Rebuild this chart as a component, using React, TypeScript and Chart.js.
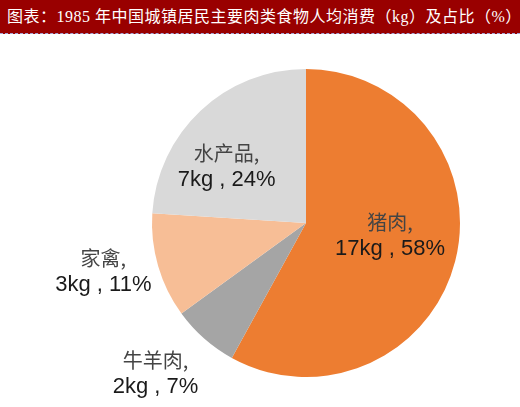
import React, { useEffect, useRef } from "react";
import { Chart, registerables } from "chart.js";

Chart.register(...registerables);

const titleText = "图表：1985 年中国城镇居民主要肉类食物人均消费（kg）及占比（%）";
const categories = ["猪肉", "牛羊肉", "家禽", "水产品"];
const kgValues = [17, 2, 3, 7];
const shares = [58, 7, 11, 24];
const colors = ["#ED7D31", "#A5A5A5", "#F7BE96", "#D9D9D9"];

// label placement (fraction of radius along slice mid-angle, plus small nudge)
const labelRadius = [0.55, 1.38, 1.35, 0.63];
const labelNudge = [
  [2, -9],
  [-10, -9],
  [-3, -10],
  [-13, 14],
];

const labelPlugin = {
  id: "sliceLabels",
  afterDatasetsDraw(chart: any) {
    const ctx = chart.ctx;
    const meta = chart.getDatasetMeta(0);
    meta.data.forEach((arc: any, i: number) => {
      const { x, y, startAngle, endAngle, outerRadius } = arc.getProps(
        ["x", "y", "startAngle", "endAngle", "outerRadius"],
        true
      );
      const mid = (startAngle + endAngle) / 2;
      const r = outerRadius * labelRadius[i];
      const cx = x + Math.cos(mid) * r + labelNudge[i][0];
      const cy = y + Math.sin(mid) * r + labelNudge[i][1];
      ctx.save();
      ctx.textAlign = "center";
      ctx.textBaseline = "middle";
      ctx.fillStyle = "#444444";
      ctx.font = '20px "Noto Sans CJK SC", sans-serif';
      ctx.fillText(categories[i] + ",", cx, cy - 13);
      ctx.fillStyle = "#1a1a1a";
      ctx.font = '22px "Liberation Sans", Arial, sans-serif';
      ctx.fillText(`${kgValues[i]}kg , ${shares[i]}%`, cx, cy + 14);
      ctx.restore();
    });
  },
};

export default function App() {
  const canvasRef = useRef<HTMLCanvasElement | null>(null);

  useEffect(() => {
    document.body.style.margin = "0";
    const canvas = canvasRef.current;
    if (!canvas) return;
    const chart = new Chart(canvas, {
      type: "pie",
      data: {
        labels: categories,
        datasets: [
          {
            data: shares,
            backgroundColor: colors,
            borderWidth: 0,
          },
        ],
      },
      options: {
        animation: false,
        responsive: true,
        maintainAspectRatio: false,
        layout: { padding: { left: 152, top: 69, right: 60, bottom: 30 } },
        plugins: {
          legend: { display: false },
          tooltip: { enabled: false },
        },
      },
      plugins: [labelPlugin],
    });
    return () => chart.destroy();
  }, []);

  return (
    <div
      style={{
        position: "fixed",
        left: 0,
        top: 0,
        width: 520,
        height: 407,
        background: "#ffffff",
        overflow: "hidden",
      }}
    >
      <div style={{ position: "absolute", left: 0, top: 0, width: 520, height: 407 }}>
        <canvas ref={canvasRef} width={520} height={407} />
      </div>
      <div
        style={{
          position: "absolute",
          left: 0,
          top: 0,
          width: 520,
          height: 34,
          background: "#990000",
          borderBottom: "1px dashed #a8a8d8",
          color: "#ffffff",
          fontFamily: '"Liberation Serif", "Noto Sans CJK SC", serif',
          fontSize: 16,
          letterSpacing: 0.5,
          lineHeight: "34px",
          paddingLeft: 7,
          boxSizing: "border-box",
          whiteSpace: "nowrap",
        }}
      >
        {titleText}
      </div>
    </div>
  );
}
